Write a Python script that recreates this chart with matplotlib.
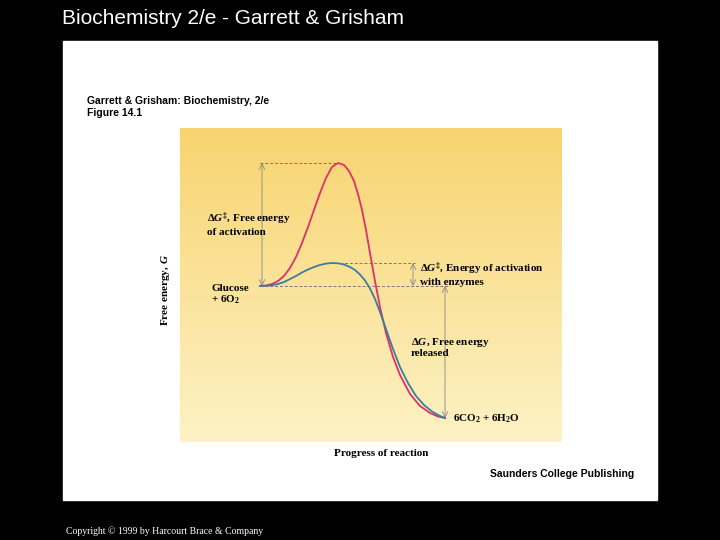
import numpy as np
import matplotlib.pyplot as plt
from matplotlib.colors import LinearSegmentedColormap

plt.rcParams['mathtext.fontset'] = 'custom'
plt.rcParams['mathtext.rm'] = 'Liberation Serif:bold'
plt.rcParams['mathtext.it'] = 'Liberation Serif:italic:bold'
plt.rcParams['mathtext.bf'] = 'Liberation Serif:bold'

# curve points (pixel coords)
red_x = [260, 266, 272, 278, 284, 290, 296, 302, 308, 314, 320, 326, 332, 338, 344, 349, 354, 358, 362, 366, 370, 375, 380, 386, 393, 400, 410, 420, 430, 438, 445]
red_y = [286, 285.5, 284, 281, 276, 268, 257, 243, 227, 210, 193, 178, 167, 163, 165, 171, 181, 194, 210, 230, 253, 281, 307, 333, 357, 375, 394, 406, 413, 416.5, 418]
blue_x = [260, 266, 272, 278, 284, 290, 296, 302, 308, 314, 320, 326, 332, 338, 344, 350, 355, 360, 365, 370, 375, 380, 386, 393, 400, 408, 416, 424, 432, 440, 445]
blue_y = [286, 285.8, 285.2, 284, 282, 279, 276, 272.5, 269.5, 267, 265, 263.6, 263, 263.3, 264.5, 267, 270, 274.5, 280.5, 288.5, 299, 312, 329, 349, 367, 383, 396, 405, 411.5, 416, 418]

fig = plt.figure(figsize=(7.2, 5.4), dpi=100, facecolor='black')
ax = fig.add_axes([0, 0, 1, 1])
ax.set_xlim(0, 720)
ax.set_ylim(540, 0)
ax.axis('off')

ax.add_patch(plt.Rectangle((63, 41), 594, 459, color='white'))
cmap = LinearSegmentedColormap.from_list('y', ['#f8d470', '#fdf2c4'])
grad = np.linspace(0, 1, 100).reshape(-1, 1)
ax.imshow(grad, cmap=cmap, extent=(180, 562, 442, 128), aspect='auto', zorder=1)

ax.text(62, 19, 'Biochemistry 2/e - Garrett & Grisham', color='white', fontsize=15,
        va='center', family='Liberation Sans')
ax.text(87, 107, 'Garrett & Grisham: Biochemistry, 2/e\nFigure 14.1', fontsize=7.5,
        fontweight='bold', va='center', linespacing=1.2, family='Liberation Sans')
ax.text(634, 474, 'Saunders College Publishing', fontsize=7.5, fontweight='bold',
        ha='right', va='center', family='Liberation Sans')
ax.text(66, 531, 'Copyright © 1999 by Harcourt Brace & Company', color='white', fontsize=7,
        va='center', family='Liberation Serif')

dash = dict(color='#777777', lw=0.7, ls=(0, (3, 2)), zorder=2)
ax.plot([260, 340], [163, 163], **dash)
ax.plot([260, 450], [286, 286], **dash)
ax.plot([330, 415], [263, 263], **dash)
arr = dict(arrowstyle='<->', color='#888888', lw=0.6, shrinkA=0, shrinkB=0)
ax.annotate('', xy=(262, 163), xytext=(262, 286), arrowprops=arr, zorder=2)
ax.annotate('', xy=(413, 263), xytext=(413, 286), arrowprops=arr, zorder=2)
ax.annotate('', xy=(445, 286), xytext=(445, 418), arrowprops=arr, zorder=2)

ax.plot(red_x, red_y, color='#e0306a', lw=1.3, zorder=3)
ax.plot(blue_x, blue_y, color='#3a7f9a', lw=1.3, zorder=4)

serif = dict(family='Liberation Serif', fontsize=8, fontweight='bold', zorder=5)
ax.text(207, 224, 'Δ$G^{‡}$, Free energy\nof activation', va='center', linespacing=1.1, **serif)
ax.text(420, 274, 'Δ$G^{‡}$, Energy of activation\nwith enzymes', va='center', linespacing=1.1, **serif)
ax.text(211, 295, 'Glucose\n+ 6O$_2$', va='center', linespacing=1.1, **serif)
ax.text(411, 347, 'Δ$G$, Free energy\nreleased', va='center', linespacing=1.1, **serif)
ax.text(453, 419, '6CO$_2$ + 6H$_2$O', va='center', **serif)
ax.text(381, 453, 'Progress of reaction', ha='center', va='center', **serif)
ax.text(165, 290, 'Free energy, $G$', rotation=90, ha='center', va='center', **serif)

fig.savefig('out.png', dpi=100, facecolor='black')
